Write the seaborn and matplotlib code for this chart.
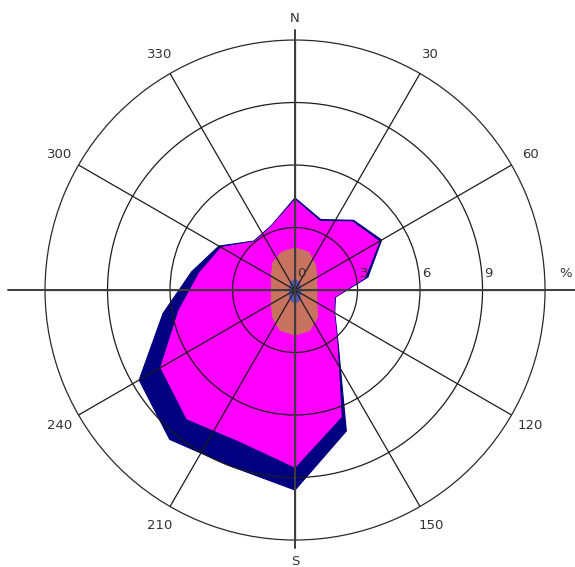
import numpy as np
import pandas as pd
import matplotlib
matplotlib.use("Agg")
import matplotlib.pyplot as plt
import seaborn as sns

# Wind rose: frequency (%) per direction sector, split into four speed classes
directions = [0, 20, 40, 60, 80, 100, 120, 140, 160, 180,
              200, 220, 240, 260, 280, 300, 320, 340]
class_1 = [0.50, 0.45, 0.35, 0.30, 0.28, 0.28, 0.30, 0.40, 0.55, 0.62,
           0.55, 0.40, 0.30, 0.28, 0.28, 0.30, 0.35, 0.45]
class_2 = [1.52, 1.47, 1.19, 0.90, 0.78, 0.78, 0.90, 1.28, 1.51, 1.54,
           1.51, 1.28, 1.00, 0.87, 0.87, 1.00, 1.33, 1.47]
class_3 = [2.30, 1.58, 2.73, 3.46, 2.34, 0.86, 0.96, 1.44, 4.42, 6.34,
           5.67, 6.39, 6.14, 4.51, 3.51, 2.78, 1.34, 1.34]
class_4 = [0.10, 0.10, 0.10, 0.14, 0.15, 0.05, 0.04, 0.08, 0.72, 1.10,
           1.27, 1.29, 1.20, 0.77, 0.38, 0.14, 0.05, 0.04]

class_names = ["class_1", "class_2", "class_3", "class_4"]
class_colors = {"class_1": "#5a5ab8", "class_2": "#c8735f",
                "class_3": "#ff00ff", "class_4": "#000080"}

angle_ticks = [0, 30, 60, 90, 120, 150, 180, 210, 240, 270, 300, 330]
angle_labels = ["N", "30", "60", "", "120", "150", "S", "210", "240", "", "300", "330"]
ring_values = [0, 3, 6, 9]
ring_labels = ["0", "3", "6", "9"]
unit_label = "%"
r_max = 12

df = pd.DataFrame({"direction": directions, "class_1": class_1,
                   "class_2": class_2, "class_3": class_3, "class_4": class_4})
cum = df[class_names].cumsum(axis=1)

sns.set_theme(style="white")
plt.rcParams["font.family"] = ["DejaVu Sans"]

fig = plt.figure(figsize=(5.75, 5.67), dpi=100)
ax = fig.add_axes([0.0783, 0.0476, 0.8696, 0.8818], projection="polar")
ax.set_theta_zero_location("N")
ax.set_theta_direction(-1)
ax.set_ylim(0, r_max)
ax.set_facecolor("white")

# stacked sectors, outermost class first so the inner ones sit on top
theta = np.deg2rad(df["direction"].to_numpy())
theta_closed = np.append(theta, theta[0])
for name in reversed(class_names):
    r = cum[name].to_numpy()
    r_closed = np.append(r, r[0])
    ax.fill(theta_closed, r_closed, color=class_colors[name], lw=0, zorder=1)
    outline = pd.DataFrame({"theta": theta_closed, "r": r_closed})
    sns.lineplot(data=outline, x="theta", y="r", sort=False, estimator=None,
                 color=class_colors[name], lw=0.8, ax=ax, zorder=1.2)
ax.set_xlabel("")
ax.set_ylabel("")

# grid: rings and 30-degree spokes drawn over the filled areas
ax.set_axisbelow(False)
ax.set_rgrids([3, 6, 9], labels=[])
ax.set_thetagrids(angle_ticks, labels=angle_labels)
ax.grid(True, color="#1c1c1c", lw=0.9)
ax.spines["polar"].set_color("#2a2a2a")
ax.spines["polar"].set_linewidth(0.9)
ax.tick_params(axis="x", pad=2.5, labelsize=9.5, labelcolor="#333333")

# main cross axes extending past the outer ring
cross = [(0, 12.48), (90, 13.45), (180, 12.4), (270, 13.8)]
for ang, reach in cross:
    ax.plot([np.deg2rad(ang), np.deg2rad(ang)], [0, reach], color="#3c3c3c",
            lw=1.4, clip_on=False, zorder=3)

# radial scale labels along the east axis
for val, lab in zip(ring_values + [12.6], ring_labels + [unit_label]):
    ax.annotate(lab, xy=(np.pi / 2, val), xytext=(1.5, 7), textcoords="offset points",
                ha="left", va="bottom", fontsize=9.5, color="#333333",
                annotation_clip=False, zorder=4)

fig.savefig("out.png", dpi=100, facecolor="white")
